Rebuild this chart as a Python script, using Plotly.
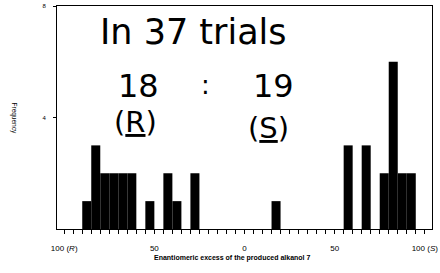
import plotly.graph_objects as go

# Histogram bins (enantiomeric excess, negative = R, positive = S), bin width 5
bin_centers = [-87.5, -82.5, -77.5, -72.5, -67.5, -62.5, -52.5, -42.5, -37.5, -27.5,
               17.5, 57.5, 67.5, 77.5, 82.5, 87.5, 92.5]
counts = [1, 3, 2, 2, 2, 2, 1, 2, 1, 2,
          1, 3, 3, 2, 6, 2, 2]
bin_width = 5

x_tickvals = [-100, -50, 0, 50, 100]
x_ticktext = ["100 (<i>R</i>)", "50", "0", "50", "100 (<i>S</i>)"]
y_tickvals = [4, 8]
y_ticktext = ["4", "8"]

x_title = "Enantiomeric excess of the produced alkanol 7"
y_title = "Frequency"

notes = [
    ("In 37 trials", 0.363, 0.883, 35),
    ("18", 0.216, 0.641, 32),
    (":", 0.395, 0.645, 26),
    ("19", 0.576, 0.641, 32),
    ("(<u>R</u>)", 0.208, 0.480, 29),
    ("(<u>S</u>)", 0.565, 0.452, 29),
]

fig = go.Figure()
fig.add_trace(go.Bar(
    x=bin_centers, y=counts, width=[bin_width] * len(bin_centers),
    marker=dict(color="black", line=dict(width=0)),
))

fig.update_layout(
    width=440, height=273,
    margin=dict(l=57, r=8, t=6, b=44, autoexpand=False),
    paper_bgcolor="white", plot_bgcolor="white",
    showlegend=False,
    font=dict(family="Liberation Sans, Arial, sans-serif", color="black"),
)

fig.update_xaxes(
    automargin=False,
    range=[-104, 104], tickvals=x_tickvals, ticktext=x_ticktext,
    showgrid=False, zeroline=False,
    showline=True, linecolor="black", linewidth=1, mirror=True,
    ticks="outside", ticklen=4, tickcolor="black", tickwidth=1,
    minor=dict(dtick=5, tick0=0, ticks="outside", ticklen=4, tickcolor="black", tickwidth=1, showgrid=False),
    tickfont=dict(size=8, family="Liberation Sans, Arial, sans-serif"),
    ticklabelstandoff=7,
)
fig.update_yaxes(
    automargin=False,
    range=[0, 8], tickvals=y_tickvals, ticktext=y_ticktext,
    showgrid=False, zeroline=False,
    showline=True, linecolor="black", linewidth=1, mirror=True,
    ticks="outside", ticklen=3, tickcolor="black",
    tickfont=dict(size=6),
    ticklabelstandoff=6,
)

fig.add_annotation(text=x_title, xref="paper", yref="paper", x=0.467, y=-0.13,
                   showarrow=False, xanchor="center", yanchor="middle",
                   font=dict(size=7, family="Liberation Sans, Arial, sans-serif", weight="bold"))
fig.add_annotation(text=y_title, xref="paper", yref="paper", x=(14 - 57) / 375, y=0.5,
                   showarrow=False, xanchor="center", yanchor="middle", textangle=90,
                   font=dict(size=6.5, family="Liberation Sans, Arial, sans-serif"))

for txt, xp, yp, sz in notes:
    fig.add_annotation(text=txt, xref="paper", yref="paper", x=xp, y=yp,
                       showarrow=False, xanchor="center", yanchor="middle",
                       font=dict(size=sz, family="DejaVu Sans, sans-serif", color="black"))

fig.write_html("out.html", config={"displayModeBar": False},
               post_script="document.body.style.margin='0';document.body.style.padding='0';")
